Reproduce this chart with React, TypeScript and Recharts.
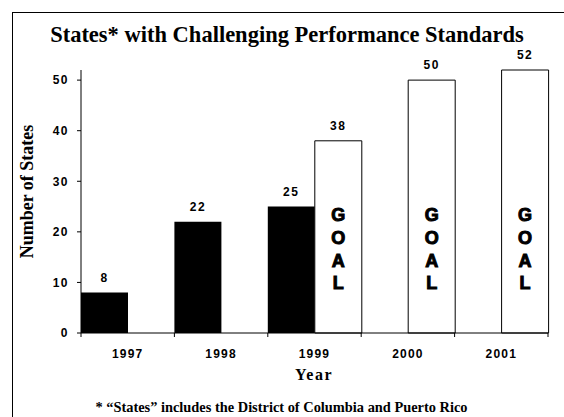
import { BarChart, Bar, XAxis, YAxis, LabelList } from "recharts";

const years = ["1997", "1998", "1999", "2000", "2001"];
const actual = [8, 22, 25, null, null];
const goal = [null, null, 38, 50, 52];
const yTicks = [0, 10, 20, 30, 40, 50];

const data = years.map((year, i) => ({ year, actual: actual[i], goal: goal[i] }));

const sans = '"Liberation Sans", Arial, sans-serif';
const serif = '"Liberation Serif", "Times New Roman", serif';

const W = 564;
const H = 417;
const M = { top: 70, right: 16, bottom: 0, left: 0 };

function YearTick(props: any) {
  const { x, y, payload, index } = props;
  const half = payload?.offset || (W - 81 - M.right) / years.length / 2;
  const axisY = y - 16;
  return (
    <g>
      <line x1={x - half} x2={x - half} y1={axisY} y2={axisY + 4} stroke="#000" />
      {index === years.length - 1 && (
        <line x1={x + half} x2={x + half} y1={axisY} y2={axisY + 4} stroke="#000" />
      )}
      <text x={x} y={y} dy="0.71em" textAnchor="middle" fontFamily={sans} fontWeight="bold" fontSize={12} letterSpacing={1.2} fill="#000">
        {payload.value}
      </text>
    </g>
  );
}

function GoalText(props: any) {
  const { viewBox, value } = props;
  if (value == null || !viewBox) return null;
  const cx = viewBox.x + viewBox.width / 2;
  const bottom = viewBox.y + viewBox.height;
  return (
    <g>
      {"GOAL".split("").map((ch, i) => (
        <text key={i} x={cx} y={bottom - 112 + i * 22.8} textAnchor="middle" fontFamily={sans} fontWeight="bold" fontSize={18} fill="#000" stroke="#000" strokeWidth={1}>
          {ch}
        </text>
      ))}
    </g>
  );
}

const valueStyle = { fontFamily: sans, fontWeight: "bold", fontSize: 12, letterSpacing: 1.5, fill: "#000" };

export default function App() {
  return (
    <div style={{ position: "fixed", left: 0, top: 0, width: W, height: H, overflow: "hidden", background: "#fff" }}>
      <div style={{ position: "absolute", left: 12, top: 12, width: 600, height: 500, border: "1px solid #000" }} />
      <div style={{ position: "absolute", left: 0, top: 0 }}>
        <BarChart width={W} height={H} data={data} margin={M} barCategoryGap={0} barGap={0}>
          <XAxis
            dataKey="year"
            height={84}
            stroke="#000"
            tickLine={false}
            tickSize={0}
            tickMargin={16}
            tick={<YearTick />}
            interval={0}
          />
          <YAxis
            width={81}
            domain={[0, 52]}
            ticks={yTicks}
            stroke="#000"
            tickSize={4}
            tickMargin={8}
            tick={{ fontFamily: sans, fontWeight: "bold", fontSize: 12, letterSpacing: 1.5, fill: "#000" }}
          />
          <Bar dataKey="actual" fill="#000" isAnimationActive={false}>
            <LabelList dataKey="actual" position="top" offset={11} style={valueStyle} />
          </Bar>
          <Bar dataKey="goal" fill="#fff" stroke="#000" strokeWidth={1} isAnimationActive={false}>
            <LabelList dataKey="goal" position="top" offset={11} style={valueStyle} />
            <LabelList dataKey="goal" content={<GoalText />} />
          </Bar>
        </BarChart>
      </div>
      <svg width={W} height={H} style={{ position: "absolute", left: 0, top: 0, pointerEvents: "none" }}>
        <text x={287} y={42} textAnchor="middle" fontFamily={serif} fontWeight="bold" fontSize={22.5} fill="#000">
          States* with Challenging Performance Standards
        </text>
        <text transform="translate(33,191.5) rotate(-90)" textAnchor="middle" fontFamily={serif} fontWeight="bold" fontSize={18} fill="#000">
          Number of States
        </text>
        <text x={314} y={380} textAnchor="middle" fontFamily={serif} fontWeight="bold" fontSize={16} letterSpacing={1.5} fill="#000">
          Year
        </text>
        <text x={281.5} y={412} textAnchor="middle" fontFamily={serif} fontWeight="bold" fontSize={14.4} fill="#000">
          * “States” includes the District of Columbia and Puerto Rico
        </text>
      </svg>
    </div>
  );
}
